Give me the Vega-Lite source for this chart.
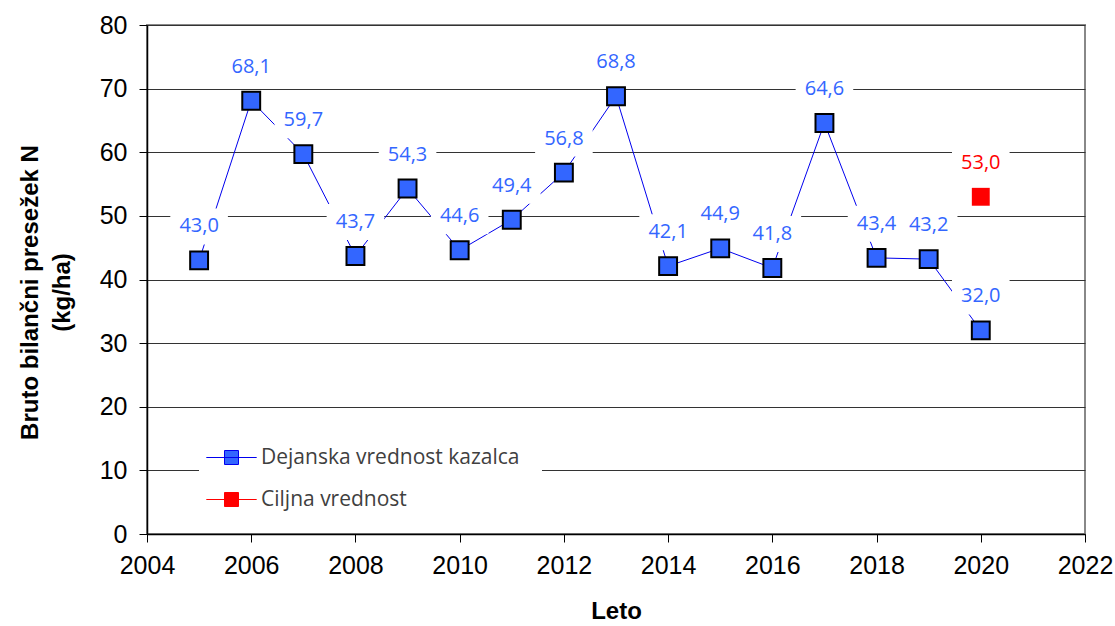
{
  "$schema": "https://vega.github.io/schema/vega-lite/v6.json",
  "width": 938,
  "height": 509,
  "autosize": "none",
  "padding": {"left": 147, "top": 25, "right": 30, "bottom": 92},
  "background": "white",
  "data": {"values": [
    {"leto": 2005, "v": 43.0, "s": "Dejanska vrednost kazalca"},
    {"leto": 2006, "v": 68.1, "s": "Dejanska vrednost kazalca"},
    {"leto": 2007, "v": 59.7, "s": "Dejanska vrednost kazalca"},
    {"leto": 2008, "v": 43.7, "s": "Dejanska vrednost kazalca"},
    {"leto": 2009, "v": 54.3, "s": "Dejanska vrednost kazalca"},
    {"leto": 2010, "v": 44.6, "s": "Dejanska vrednost kazalca"},
    {"leto": 2011, "v": 49.4, "s": "Dejanska vrednost kazalca"},
    {"leto": 2012, "v": 56.8, "s": "Dejanska vrednost kazalca"},
    {"leto": 2013, "v": 68.8, "s": "Dejanska vrednost kazalca"},
    {"leto": 2014, "v": 42.1, "s": "Dejanska vrednost kazalca"},
    {"leto": 2015, "v": 44.9, "s": "Dejanska vrednost kazalca"},
    {"leto": 2016, "v": 41.8, "s": "Dejanska vrednost kazalca"},
    {"leto": 2017, "v": 64.6, "s": "Dejanska vrednost kazalca"},
    {"leto": 2018, "v": 43.4, "s": "Dejanska vrednost kazalca"},
    {"leto": 2019, "v": 43.2, "s": "Dejanska vrednost kazalca"},
    {"leto": 2020, "v": 32.0, "s": "Dejanska vrednost kazalca"},
    {"leto": 2020, "v": 53.0, "s": "Ciljna vrednost"}
  ]},
  "encoding": {
    "x": {"field": "leto", "type": "quantitative",
      "scale": {"domain": [2004, 2022], "nice": false, "zero": false},
      "axis": {"values": [2004, 2006, 2008, 2010, 2012, 2014, 2016, 2018, 2020, 2022], "format": "d", "grid": false, "title": "Leto", "titlePadding": 21,
        "labelFontSize": 25, "labelPadding": 11, "titleFontSize": 24, "labelFlush": false}},
    "y": {"field": "v", "type": "quantitative",
      "scale": {"domain": [0, 80], "nice": false},
      "axis": {"values": [0, 10, 20, 30, 40, 50, 60, 70, 80], "title": ["Bruto bilančni presežek N", "(kg/ha)"], "labelPadding": 12, "titlePadding": 25,
        "labelFontSize": 25, "titleFontSize": 24, "titleY": 267, "labelFlush": false}}
  },
  "layer": [
    {
      "mark": {"type": "line", "strokeWidth": 1},
      "encoding": {
        "stroke": {"field": "s", "type": "nominal",
          "scale": {"domain": ["Dejanska vrednost kazalca", "Ciljna vrednost"], "range": ["#0000EE", "#FF0000"]},
          "legend": {"title": null, "labelLimit": 500,
            "encode": {"symbols": {"update": {"shape": {"value": "M-3.6,0H3.6M-1,-1H1V1H-1Z"}, "size": {"value": 196}, "strokeWidth": {"value": 1}}}}}}
      }
    },
    {
      "mark": {"type": "point", "shape": "M-1.6,-1H1.6V1H-1.6Z", "size": 1296, "filled": true, "fill": "white", "opacity": 1, "strokeWidth": 0, "yOffset": -34},
      "encoding": {}
    },
    {
      "mark": {"type": "text", "dy": -34, "baseline": "middle", "align": "center", "font": "Open Sans", "fontSize": 20},
      "encoding": {
        "text": {"field": "v", "type": "quantitative", "format": ".1f"},
        "color": {"condition": {"test": "datum.s === 'Ciljna vrednost'", "value": "#FF0000"}, "value": "#3366FF"}
      }
    },
    {
      "mark": {"type": "point", "shape": "square", "size": 320, "filled": true, "opacity": 1},
      "encoding": {
        "fill": {"field": "s", "type": "nominal",
          "scale": {"domain": ["Dejanska vrednost kazalca", "Ciljna vrednost"], "range": ["#3366FF", "#FF0000"]},
          "legend": {"title": null, "labelLimit": 500,
            "encode": {"symbols": {"update": {"shape": {"value": "M-3.6,0H3.6M-1,-1H1V1H-1Z"}, "size": {"value": 196}, "strokeWidth": {"value": 1}}}}}},
        "stroke": {"condition": {"test": "datum.s === 'Ciljna vrednost'", "value": "#FF0000"}, "value": "#000000"},
        "strokeWidth": {"condition": {"test": "datum.s === 'Ciljna vrednost'", "value": 0}, "value": 2}
      }
    }
  ],
  "config": {
    "locale": {"number": {"decimal": ",", "thousands": ".", "grouping": [3], "currency": ["", " €"]}},
    "view": {"stroke": "#888888", "strokeWidth": 2},
    "axis": {
      "labelFont": "Liberation Sans", "labelColor": "#000000",
      "titleFont": "Liberation Sans", "titleFontWeight": "bold", "titleColor": "#000000",
      "tickSize": 8, "tickColor": "#000000", "domainColor": "#000000", "domainWidth": 1.5,
      "gridColor": "#333333", "gridWidth": 1, "gridOpacity": 1, "titleLineHeight": 32
    },
    "legend": {
      "orient": "none", "legendX": 52, "legendY": 400, "fillColor": "white", "padding": 22,
      "rowPadding": 20, "symbolSize": 196, "symbolStrokeWidth": 1, "labelFont": "Open Sans", "labelFontSize": 21, "labelColor": "#404040",
      "labelOffset": 19, "labelLimit": 500
    }
  }
}
